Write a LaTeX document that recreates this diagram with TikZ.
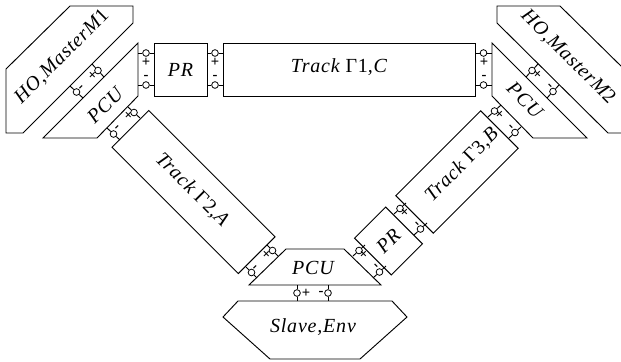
\documentclass[tikz,border=0pt]{standalone}
\usepackage{fontspec}
\setmainfont{Liberation Serif}
\usetikzlibrary{calc}
\newcommand{\portwire}[3]{%
  \coordinate (#1a) at (#2);
  \coordinate (#1b) at (#3);
  \node[port] (#1) at ($(#1a)!0.5!(#1b)$) {};
  \draw[wire] (#1a) -- (#1) -- (#1b);
}
\begin{document}
\begin{tikzpicture}[
    x=0.75pt, y=-0.75pt,
    line width=0.7pt,
    block/.style={draw, minimum width=39.75pt, minimum height=39.75pt, inner sep=0pt},
    lbl/.style={font=\fontsize{15}{18}\selectfont\itshape\addfontfeatures{LetterSpace=4}, inner sep=0pt},
    sgn/.style={font=\fontsize{11}{12}\selectfont\bfseries, inner sep=0pt},
    port/.style={draw, circle, fill=white, inner sep=0pt, minimum size=5pt, line width=0.6pt},
    wire/.style={line width=0.7pt}
]
\useasboundingbox (0,0) rectangle (621,361);
\begin{scope}
\clip (0,0) rectangle (621,361);
\draw (70,6) -- (133,6) -- (133,23) -- (23,133) -- (6,133) -- (6,69) -- cycle;
\draw (497,6) -- (560,6) -- (624,69) -- (624,133) -- (608,133) -- (497,23) -- cycle;
\end{scope}
\draw (138,43) -- (138,96) -- (97,138) -- (43,138) -- cycle;
\draw (492,43) -- (492,96) -- (533,138) -- (587,138) -- cycle;
\draw (286,249) -- (344,249) -- (381,285) -- (249,285) -- cycle;
\draw (238,301) -- (392,301) -- (407,317) -- (360,359) -- (270,359) -- (223,317) -- cycle;
\node[block] (prtop) at (180.5,69.5) {};
\node[block, minimum width=189pt] (trackc) at (349,69.5) {};
\node[block, minimum width=134pt, minimum height=39pt, rotate=-45] (tracka) at (193.5,192) {};
\node[block, minimum width=90pt, rotate=45] (trackb) at (457,172) {};
\node[block, minimum width=33pt, minimum height=39pt, rotate=45] (prlow) at (388.5,241) {};
\node[lbl, rotate=45] (lmone) at (62,57) {HO,MasterM{\upshape 1}};
\node[lbl, rotate=-45] (lmtwo) at (568,57) {HO,MasterM{\upshape 2}};
\node[lbl, rotate=45] (lpcua) at (105,105) {PCU};
\node[lbl, rotate=-45] (lpcub) at (525,100) {PCU};
\node[lbl] (lpcuc) at (313,268) {PCU};
\node[lbl] (lslave) at (313,327) {Slave,Env};
\node[lbl] (lprtop) at (prtop) {PR};
\node[lbl, rotate=45] (lprlow) at (prlow) {PR};
\node[lbl] (ltrackc) at (339,67) {Track {\upshape Γ1},C};
\node[lbl, rotate=-45] (ltracka) at (192,190) {Track {\upshape Γ2},A};
\node[lbl, rotate=45] (ltrackb) at (462,165) {Track {\upshape Γ3},B};
\portwire{pa}{138,53}{154,53}
\portwire{pb}{138,85}{154,85}
\portwire{pc}{207,53}{223,53}
\portwire{pd}{207,85}{223,85}
\portwire{pe}{475,53}{492,53}
\portwire{pf}{475,85}{492,85}
\portwire{pg}{70,86}{83,98}
\portwire{ph}{92,64}{104,77}
\portwire{pi}{107,128}{120,140}
\portwire{pj}{128,107}{140,118}
\portwire{pk}{526,77}{538,64}
\portwire{pl}{547,98}{559,85}
\portwire{pm}{488,117}{501,105}
\portwire{pn}{509,138}{521,127}
\portwire{po}{394,214}{406,203}
\portwire{pp}{414,235}{427,223}
\portwire{pq}{246,267}{257,278}
\portwire{pr}{267,245}{278,256}
\portwire{ps}{353,256}{365,245}
\portwire{pt}{373,278}{386,266}
\portwire{pu}{297,285}{297,301}
\portwire{pv}{328,285}{328,301}
\node[sgn] (sa) at (146,62) {+};
\node[sgn] (sb) at (146,77) {-};
\node[sgn] (sc) at (215,62) {+};
\node[sgn] (sd) at (215,77) {-};
\node[sgn] (se) at (484,62) {+};
\node[sgn] (sf) at (484,77) {-};
\node[sgn, rotate=45] (sg) at (82,88) {-};
\node[sgn, rotate=45] (sh) at (93,76) {+};
\node[sgn, rotate=45] (si) at (118,128) {-};
\node[sgn, rotate=45] (sj) at (129,116) {+};
\node[sgn, rotate=-45] (sk) at (537,75) {+};
\node[sgn, rotate=-45] (sl) at (549,87) {-};
\node[sgn, rotate=-45] (sm) at (499,115) {+};
\node[sgn, rotate=-45] (sn) at (510,128) {-};
\node[sgn, rotate=-45] (so) at (404,213) {+};
\node[sgn, rotate=-45] (sp) at (416,225) {-};
\node[sgn, rotate=45] (sq) at (256,268) {-};
\node[sgn, rotate=45] (sr) at (267,255) {+};
\node[sgn, rotate=-45] (ss) at (363,255) {+};
\node[sgn, rotate=-45] (st) at (375,267) {-};
\node[sgn] (su) at (306,293) {+};
\node[sgn] (sv) at (321,293) {-};
\end{tikzpicture}
\end{document}
